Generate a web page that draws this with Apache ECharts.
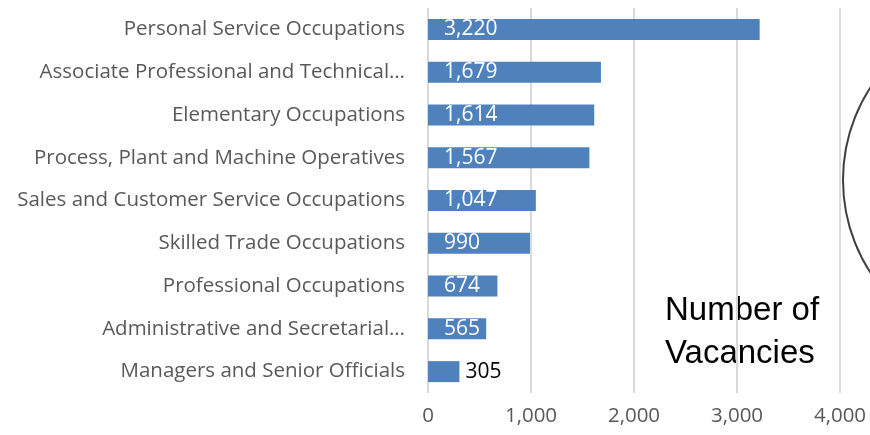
<!DOCTYPE html>
<html>
<head>
<meta charset="utf-8">
<script src="https://cdn.jsdelivr.net/npm/echarts@6/dist/echarts.min.js"></script>
<style>
  html, body { margin: 0; padding: 0; background: #fff; }
  #main { width: 870px; height: 435px; }
</style>
</head>
<body>
<div id="main"></div>
<script>
// occupations, bottom to top as drawn by the category axis
var occupations = [
    'Managers and Senior Officials',
    'Administrative and Secretarial…',
    'Professional Occupations',
    'Skilled Trade Occupations',
    'Sales and Customer Service Occupations',
    'Process, Plant and Machine Operatives',
    'Elementary Occupations',
    'Associate Professional and Technical…',
    'Personal Service Occupations'
];
var vacancies = [305, 565, 674, 990, 1047, 1567, 1614, 1679, 3220];
var xTicks = [0, 1000, 2000, 3000, 4000];

var labelFont = '"Open Sans", "Noto Sans", sans-serif';

var myChart = echarts.init(document.getElementById('main'));

var barData = vacancies.map(function (v) {
    if (v < 400) {
        return {
            value: v,
            label: { position: 'right', distance: 6, color: '#000000' }
        };
    }
    return v;
});

var option = {
    backgroundColor: '#ffffff',
    animation: false,
    grid: {
        left: 428,
        right: 30,
        top: 8,
        bottom: 42
    },
    xAxis: {
        type: 'value',
        min: xTicks[0],
        max: xTicks[xTicks.length - 1],
        interval: 1000,
        axisLine: { show: false },
        axisTick: { show: false },
        axisLabel: {
            color: '#595959',
            fontFamily: labelFont,
            fontSize: 20.5,
            margin: 13,
            formatter: function (v) { return v.toLocaleString('en-US'); }
        },
        splitLine: { lineStyle: { color: '#d9d9d9', width: 2 } }
    },
    yAxis: {
        type: 'category',
        data: occupations,
        axisLine: { show: false },
        axisTick: { show: false },
        axisLabel: {
            color: '#595959',
            fontFamily: labelFont,
            fontSize: 20.5,
            margin: 23,
            padding: [4, 0, 0, 0]
        }
    },
    series: [{
        type: 'bar',
        data: barData,
        barWidth: 21,
        itemStyle: { color: '#4f81bd' },
        label: {
            show: true,
            position: 'insideLeft',
            distance: 16,
            color: '#ffffff',
            fontFamily: labelFont,
            fontSize: 21,
            padding: [4, 0, 0, 0],
            formatter: function (p) { return p.value.toLocaleString('en-US'); }
        }
    }],
    graphic: [
        {
            type: 'circle',
            shape: { cx: 1013, cy: 180, r: 170 },
            style: { fill: 'none', stroke: '#404040', lineWidth: 2 }
        },
        {
            type: 'text',
            left: 665,
            top: 289,
            style: {
                text: 'Number of\nVacancies',
                fill: '#000000',
                font: '33px "Liberation Sans", Arial, sans-serif',
                lineHeight: 43,
                textAlign: 'left'
            }
        }
    ]
};

myChart.setOption(option);
</script>
</body>
</html>
